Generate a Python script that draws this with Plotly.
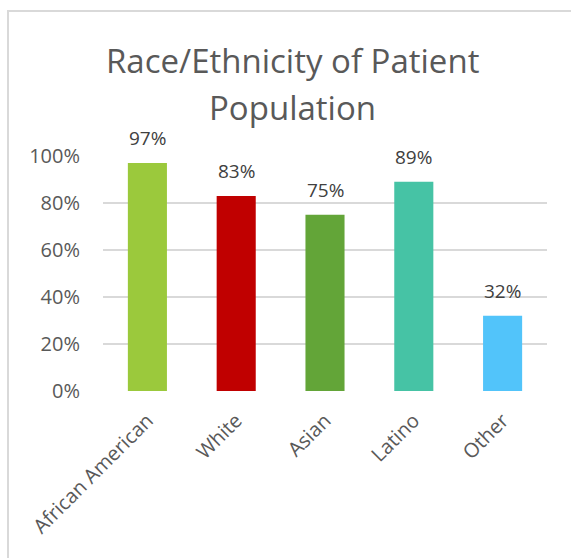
import plotly.graph_objects as go

# Share of patients by race/ethnicity
categories = ["African American", "White", "Asian", "Latino", "Other"]
shares = [0.97, 0.83, 0.75, 0.89, 0.32]
bar_colors = ["#9BC93C", "#C00000", "#63A538", "#46C3A5", "#52C4FA"]
y_ticks = [0, 0.2, 0.4, 0.6, 0.8, 1.0]
y_tick_labels = ["0%", "20%", "40%", "60%", "80%", "100%"]
title_lines = ["Race/Ethnicity of Patient", "Population"]

FONT = "Open Sans"
GRAY = "#595959"

fig = go.Figure(
    go.Bar(
        x=categories,
        y=shares,
        marker=dict(color=bar_colors, line=dict(width=0)),
        hoverinfo="skip",
    )
)

W, H = 571, 558
L, R, T, B = 103, 24, 156, 167
plot_w = W - L - R
plot_h = H - T - B

fig.update_layout(
    width=W,
    height=H,
    margin=dict(l=L, r=R, t=T, b=B),
    paper_bgcolor="white",
    plot_bgcolor="white",
    bargap=0.56,
    showlegend=False,
    font=dict(family=FONT, color=GRAY),
)

fig.update_yaxes(
    range=[0, 1],
    tickvals=y_ticks,
    ticktext=y_tick_labels,
    tickfont=dict(family=FONT, size=20, color=GRAY),
    showgrid=True,
    gridcolor="#D9D9D9",
    gridwidth=1.5,
    zeroline=False,
    showline=False,
    ticks="",
    ticklabelstandoff=22,
)

fig.update_xaxes(
    tickangle=-45,
    tickfont=dict(family=FONT, size=20, color=GRAY),
    showline=False,
    ticks="",
    showgrid=False,
    ticklabelstandoff=13,
)

# Value labels above each bar
for cat, v in zip(categories, shares):
    fig.add_annotation(
        x=cat, y=v,
        text=f"{round(v * 100)}%",
        xanchor="center", yanchor="bottom",
        yshift=10,
        showarrow=False,
        font=dict(family=FONT, size=19, color="#404040"),
    )

# Chart-area frame
fig.add_shape(
    type="rect",
    xref="paper", yref="paper",
    x0=(8 - L) / plot_w, x1=(W + 20 - L) / plot_w,
    y0=-(B + 20) / plot_h, y1=(H - B - 11) / plot_h,
    line=dict(color="#D9D9D9", width=2),
    fillcolor="rgba(0,0,0,0)",
    layer="below",
)

# Two-line chart title
for text, baseline in zip(title_lines, [75, 122]):
    fig.add_annotation(
        text=text,
        xref="paper", yref="paper",
        x=(292 - L) / plot_w,
        y=(H - B - baseline) / plot_h,
        xanchor="center", yanchor="bottom",
        yshift=-10,
        showarrow=False,
        font=dict(family=FONT, size=33, color=GRAY),
    )

fig.write_html("out.html")
